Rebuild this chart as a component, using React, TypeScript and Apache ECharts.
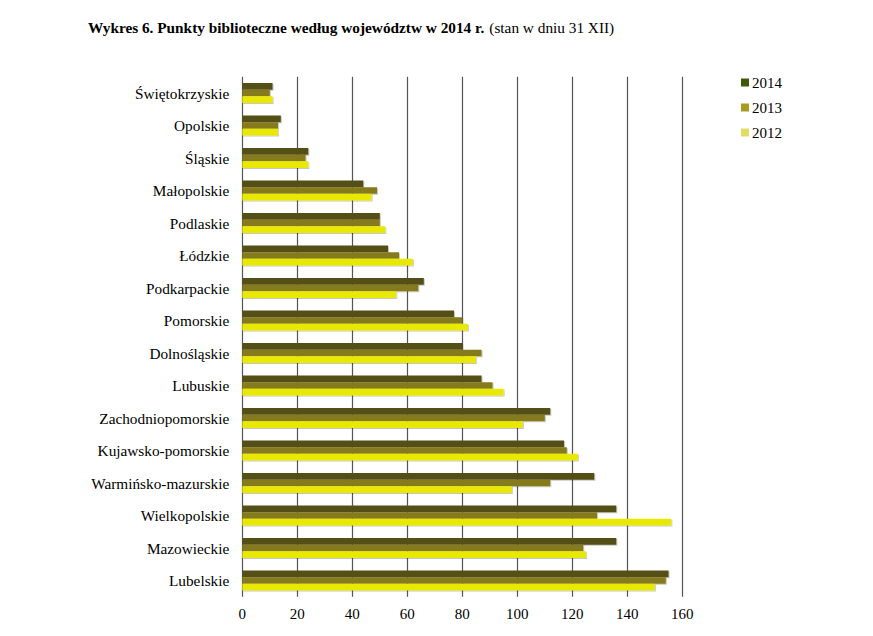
import React, { useEffect, useRef } from "react";
import * as echarts from "echarts";

// Voivodeships, listed top to bottom as drawn
const regions = [
  "Świętokrzyskie",
  "Opolskie",
  "Śląskie",
  "Małopolskie",
  "Podlaskie",
  "Łódzkie",
  "Podkarpackie",
  "Pomorskie",
  "Dolnośląskie",
  "Lubuskie",
  "Zachodniopomorskie",
  "Kujawsko-pomorskie",
  "Warmińsko-mazurskie",
  "Wielkopolskie",
  "Mazowieckie",
  "Lubelskie",
];

const years = ["2014", "2013", "2012"];

const points2014 = [11, 14, 24, 44, 50, 53, 66, 77, 80, 87, 112, 117, 128, 136, 136, 155];
const points2013 = [10, 13, 23, 49, 50, 57, 64, 80, 87, 91, 110, 118, 112, 129, 124, 154];
const points2012 = [11, 13, 24, 47, 52, 62, 56, 82, 85, 95, 102, 122, 98, 156, 125, 150];

const barColors = ["#534f12", "#857a1e", "#e8e800"];
const legendColors = ["#3f5a0b", "#a69e1e", "#e0dc66"];

const FONT = "'Liberation Serif', 'Times New Roman', serif";

export default function App() {
  const ref = useRef<HTMLDivElement>(null);

  useEffect(() => {
    if (!ref.current) return;
    const chart = echarts.init(ref.current, undefined, { renderer: "svg" });
    const seriesData = [points2014, points2013, points2012];

    chart.setOption({
      animation: false,
      backgroundColor: "#ffffff",
      title: {
        text: "{b|Wykres 6. Punkty biblioteczne według województw w 2014 r.} {n|(stan w dniu 31 XII)}",
        left: 88,
        top: 18,
        padding: 0,
        textStyle: {
          fontWeight: "normal",
          rich: {
            b: { fontFamily: FONT, fontSize: 15.3, fontWeight: "bold", color: "#000" },
            n: { fontFamily: FONT, fontSize: 15.3, fontWeight: "normal", color: "#000" },
          },
        },
      },
      legend: {
        orient: "vertical",
        left: 741,
        top: 75,
        itemWidth: 8,
        itemHeight: 8,
        itemGap: 10,
        padding: 0,
        icon: "rect",
        textStyle: {
          fontFamily: FONT,
          fontSize: 15,
          lineHeight: 15,
          color: "#000",
          padding: [0, 0, 0, -2],
        },
        data: years.map((y, i) => ({ name: y, itemStyle: { color: legendColors[i] } })),
      },
      grid: {
        left: 242.3,
        right: 190.7,
        top: 76.75,
        height: 520,
        containLabel: false,
      },
      xAxis: {
        type: "value",
        min: 0,
        max: 160,
        interval: 20,
        axisLine: { show: false },
        axisTick: { show: false },
        axisLabel: { fontFamily: FONT, fontSize: 15, color: "#000", margin: 10 },
        splitLine: { show: true, lineStyle: { color: "#555555", width: 1.2 } },
      },
      yAxis: {
        type: "category",
        inverse: true,
        data: regions,
        axisLine: { show: false },
        axisTick: { show: false },
        axisLabel: { fontFamily: FONT, fontSize: 15.3, color: "#000", margin: 13 },
      },
      series: years.map((y, i) => ({
        name: y,
        type: "bar",
        data: seriesData[i],
        barWidth: 6.7,
        barGap: "0%",
        itemStyle: {
          color: barColors[i],
          shadowColor: "rgba(0,0,0,0.22)",
          shadowOffsetX: 1,
          shadowOffsetY: 1,
          shadowBlur: 0,
        },
      })),
    });

    return () => chart.dispose();
  }, []);

  return (
    <div
      ref={ref}
      style={{ position: "fixed", left: 0, top: 0, width: 873, height: 636 }}
    />
  );
}
